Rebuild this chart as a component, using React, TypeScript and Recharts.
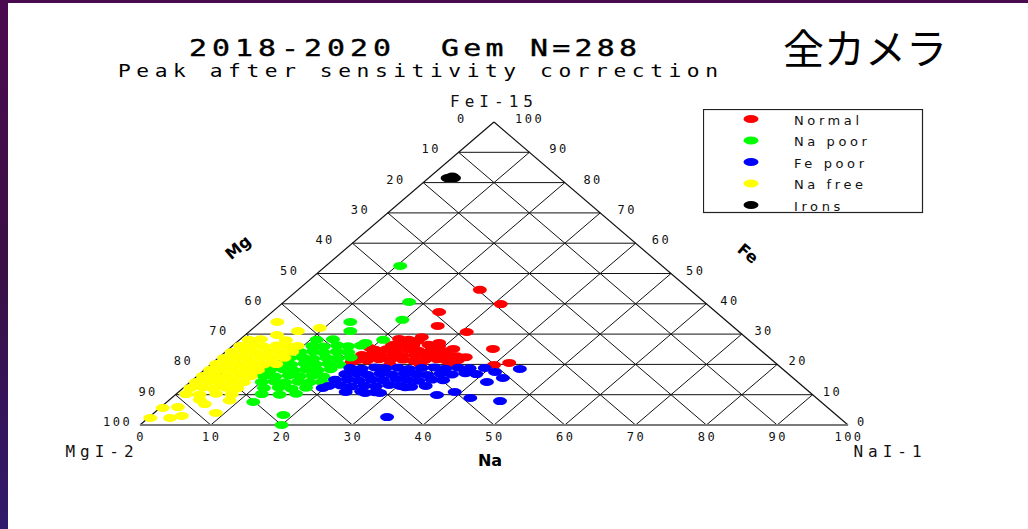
import React from "react";
import {
  ScatterChart,
  Scatter,
  XAxis,
  YAxis,
  ReferenceLine,
  ReferenceDot,
  Legend,
} from "recharts";

const TICKS = [0, 10, 20, 30, 40, 50, 60, 70, 80, 90, 100];
const GRID = [10, 20, 30, 40, 50, 60, 70, 80, 90];

const GROUPS = ["Normal", "Na poor", "Fe poor", "Na free", "Irons"];
const COLORS = ["#ff0000", "#00ff00", "#0000ff", "#ffff00", "#000000"];

// each point is [Na, Fe] in % (Mg = 100 - Na - Fe)
const normal: [number, number][] = [
  [25.7, 44.6], [31.0, 39.9], [23.6, 37.3], [25.7, 32.7], [30.8, 30.7], [37.3, 25.1],
  [41.9, 20.5], [40.1, 19.8], [34.8, 22.4], [31.7, 25.1], [28.7, 27.1], [25.3, 29.0],
  [22.4, 28.4], [23.9, 28.1], [25.3, 27.8],
  [22.4, 26.4], [23.9, 26.6], [25.5, 26.2], [27.5, 26.5], [29.2, 26.0],
  [20.8, 24.8], [22.3, 25.0], [23.9, 24.6], [25.5, 24.9], [27.1, 24.5], [28.8, 24.8], [30.8, 24.3],
  [19.8, 23.1], [21.2, 23.3], [22.6, 22.9], [24.2, 23.2], [25.7, 22.8], [27.3, 23.1],
  [28.8, 23.4], [30.4, 22.9], [31.9, 23.0], [33.4, 22.7],
  [20.0, 21.5], [21.4, 21.3], [22.9, 21.7], [24.6, 21.4], [26.3, 21.6], [28.0, 21.2],
  [29.5, 21.5], [31.1, 21.7], [32.6, 21.3], [34.2, 21.4],
  [25.4, 19.8], [29.6, 20.0], [33.9, 19.9], [19.5, 20.8], [19.8, 25.4],
];

const naPoor: [number, number][] = [
  [10.5, 52.5], [17.7, 40.6], [19.7, 34.7], [12.7, 34.0], [14.2, 31.0], [20.3, 28.1], [18.3, 27.1],
  [10.9, 28.1], [13.1, 28.3],
  [11.3, 26.1], [13.0, 25.9], [14.7, 26.3], [16.4, 26.0], [18.1, 26.2],
  [10.6, 24.1], [12.3, 24.3], [14.0, 23.9], [15.7, 24.2], [17.4, 24.0],
  [10.1, 22.1], [11.8, 22.3], [13.5, 21.9], [15.2, 22.2], [16.9, 22.0], [18.6, 22.3],
  [9.7, 20.1], [11.4, 19.9], [13.1, 20.3], [14.8, 20.0], [16.5, 20.2], [18.2, 19.9],
  [9.3, 18.2], [11.0, 18.4], [12.7, 18.0], [14.3, 18.3], [16.0, 18.1], [17.7, 18.4],
  [9.4, 16.2], [11.1, 16.0], [12.8, 16.4], [14.5, 16.1], [16.2, 16.3], [17.9, 16.0],
  [10.1, 14.2], [11.8, 14.4], [13.5, 14.0], [15.2, 14.3], [16.9, 14.1], [18.6, 14.2],
  [11.4, 12.2], [13.4, 12.4], [15.4, 12.0], [17.3, 12.3],
  [12.1, 10.2], [14.7, 10.0], [16.9, 10.3],
  [12.2, 7.6], [18.6, 3.3], [20.0, 0.0],
];

const fePoor: [number, number][] = [
  [20.3, 18.8], [22.0, 18.6], [23.7, 19.0], [25.3, 18.7], [27.0, 18.9], [28.7, 18.5],
  [30.4, 18.8], [32.1, 19.0], [33.8, 18.6], [35.5, 18.9], [37.2, 18.7],
  [20.6, 16.8], [22.1, 17.0], [23.8, 16.6], [25.5, 16.9], [27.2, 16.7], [28.9, 17.0],
  [30.6, 16.8], [32.3, 16.5], [34.0, 16.9], [35.7, 16.7], [37.4, 17.1], [39.1, 16.8],
  [20.1, 14.9], [21.8, 15.1], [23.5, 14.7], [25.2, 15.0], [26.9, 14.8], [28.6, 15.2],
  [30.3, 14.9], [32.0, 14.6], [33.7, 15.0], [35.4, 14.8],
  [20.2, 12.9], [21.8, 13.1], [23.5, 12.7], [25.2, 13.0], [26.9, 12.8], [28.6, 13.2],
  [30.3, 12.9], [32.0, 12.6],
  [23.6, 10.9], [25.7, 11.1], [27.8, 10.8],
  [44.4, 18.5], [43.5, 15.5], [41.9, 14.2], [46.9, 7.9], [42.2, 8.9], [39.0, 10.9],
  [37.0, 9.9], [33.6, 2.6], [33.9, 12.9], [31.2, 12.5], [28.6, 10.6], [26.5, 10.6],
  [19.7, 12.2], [39.3, 18.8], [41.4, 17.5],
];

const naFree: [number, number][] = [
  [2.4, 34.0], [9.4, 32.0], [6.8, 31.0], [4.5, 29.7],
  [1.3, 28.1], [2.9, 28.3], [6.6, 28.0],
  [1.1, 26.1], [2.8, 26.3], [4.5, 25.9], [6.2, 26.2], [7.9, 26.0], [9.2, 26.1],
  [0.9, 24.1], [2.6, 24.3], [4.3, 23.9], [6.0, 24.2], [7.7, 24.0], [9.4, 24.2],
  [0.8, 22.1], [2.5, 22.3], [4.2, 21.9], [5.9, 22.2], [7.6, 22.0], [9.3, 22.2],
  [0.7, 20.1], [2.4, 20.3], [4.1, 19.9], [5.8, 20.2], [7.5, 20.0], [9.2, 20.1],
  [0.8, 18.2], [2.5, 18.4], [4.2, 18.0], [5.9, 18.3], [7.6, 18.1],
  [0.8, 16.2], [2.5, 16.4], [4.2, 16.0], [5.9, 16.3], [7.6, 16.1],
  [0.8, 14.2], [2.5, 14.4], [4.2, 14.0], [5.9, 14.3], [7.6, 14.1],
  [1.0, 12.2], [2.7, 12.4], [4.4, 12.0], [6.0, 12.3], [7.7, 12.1],
  [1.4, 10.2], [3.4, 10.0], [5.6, 10.3], [7.9, 10.1],
  [4.3, 8.3], [8.6, 8.1],
  [0.4, 5.6], [2.4, 5.9], [4.4, 3.0], [3.1, 2.3], [0.3, 2.3], [5.7, 6.9], [8.7, 4.0],
];

const irons: [number, number][] = [
  [2.7, 81.5], [3.6, 81.5], [3.1, 82.0],
];

const SERIES = [normal, naPoor, fePoor, naFree, irons];

// ternary -> cartesian (x along the Na base, y = Fe height)
const toXY = (pts: [number, number][]) =>
  pts.map(([na, fe]) => ({ x: na + fe / 2, y: fe, na, fe, mg: 100 - na - fe }));

const MONO = "DejaVu Sans Mono";

const tickFont = {
  fontFamily: MONO,
  fontSize: 12,
  letterSpacing: 2.5,
  fill: "#111",
};

const labelFont = { ...tickFont, fontSize: 16, letterSpacing: 5 };
const boldFont = { fontFamily: "DejaVu Sans", fontSize: 16, fontWeight: 900, fill: "#000" };

const NaTick = (props: any) => (
  <text
    x={props.x + 1}
    y={props.y + 12}
    textAnchor="middle"
    dominantBaseline="central"
    style={tickFont}
  >
    {props.payload.value}
  </text>
);

const LegendBox = () => (
  <svg width={221} height={105}>
    <rect x={0.5} y={0.5} width={219} height={103} fill="#fff" stroke="#222" strokeWidth={1.2} />
    {GROUPS.map((g, i) => (
      <g key={g}>
        <ellipse cx={48} cy={10 + i * 21.5} rx={7.5} ry={4} fill={COLORS[i]} />
        <text
          x={91}
          y={11 + i * 21.5}
          dominantBaseline="central"
          style={{ fontFamily: "DejaVu Sans", fontSize: 13, letterSpacing: 3.6, fill: "#111" }}
        >
          {g}
        </text>
      </g>
    ))}
  </svg>
);

export default function App() {
  return (
    <div
      style={{
        position: "absolute",
        left: 0,
        top: 0,
        width: 1028,
        height: 529,
        background: "#fff",
        overflow: "hidden",
      }}
    >
      <div
        style={{
          position: "absolute",
          left: 0,
          top: 0,
          width: 8,
          height: 529,
          background: "linear-gradient(#4b0a50, #3a0f45 50%, #311a6b)",
        }}
      />
      <div
        style={{
          position: "absolute",
          left: 0,
          top: 0,
          width: 1028,
          height: 3,
          background: "#4a0a4e",
        }}
      />
      <div style={{ position: "absolute", left: 0, top: 0 }}>
        <ScatterChart
          width={1028}
          height={529}
          margin={{ top: 122, right: 180, bottom: 74, left: 140 }}
        >
          <XAxis
            type="number"
            dataKey="x"
            domain={[0, 100]}
            ticks={TICKS}
            interval={0}
            height={30}
            tickSize={0}
            tickMargin={0}
            tickLine={false}
            axisLine={{ stroke: "#7a7a7a", strokeWidth: 2 }}
            tick={<NaTick />}
          />
          <YAxis type="number" dataKey="y" domain={[0, 100]} hide />

          {GRID.map((k) => (
            <ReferenceLine
              key={"fe" + k}
              segment={[{ x: k / 2, y: k }, { x: 100 - k / 2, y: k }]}
              stroke="#111"
              strokeWidth={1}
            />
          ))}
          {GRID.map((k) => (
            <ReferenceLine
              key={"na" + k}
              segment={[{ x: k, y: 0 }, { x: 50 + k / 2, y: 100 - k }]}
              stroke="#111"
              strokeWidth={1}
            />
          ))}
          {GRID.map((k) => (
            <ReferenceLine
              key={"mg" + k}
              segment={[{ x: (100 - k) / 2, y: 100 - k }, { x: 100 - k, y: 0 }]}
              stroke="#111"
              strokeWidth={1}
            />
          ))}
          <ReferenceLine segment={[{ x: 0, y: 0 }, { x: 50, y: 100 }]} stroke="#111" strokeWidth={1.2} />
          <ReferenceLine segment={[{ x: 50, y: 100 }, { x: 100, y: 0 }]} stroke="#111" strokeWidth={1.2} />

          {/* Mg scale along the left edge */}
          {TICKS.map((k) => (
            <ReferenceDot
              key={"mgl" + k}
              x={(100 - k) / 2}
              y={100 - k}
              r={1}
              shape={(p: any) => (
                <text x={p.cx - 37} y={p.cy - 3} textAnchor="start" dominantBaseline="central" style={tickFont}>
                  {k}
                </text>
              )}
            />
          ))}
          {/* Fe scale along the right edge */}
          {TICKS.map((k) => (
            <ReferenceDot
              key={"fel" + k}
              x={100 - k / 2}
              y={k}
              r={1}
              shape={(p: any) => (
                <text x={p.cx + 9 + k * 0.12} y={p.cy - 3} textAnchor="start" dominantBaseline="central" style={tickFont}>
                  {k}
                </text>
              )}
            />
          ))}

          <ReferenceDot
            x={50}
            y={100}
            r={1}
            shape={(p: any) => (
              <text x={p.cx} y={p.cy - 21} textAnchor="middle" dominantBaseline="central" style={labelFont}>
                FeI-15
              </text>
            )}
          />
          <ReferenceDot
            x={0}
            y={0}
            r={1}
            shape={(p: any) => (
              <text x={p.cx - 38} y={p.cy + 26} textAnchor="middle" dominantBaseline="central" style={labelFont}>
                MgI-2
              </text>
            )}
          />
          <ReferenceDot
            x={100}
            y={0}
            r={1}
            shape={(p: any) => (
              <text x={p.cx + 42} y={p.cy + 26} textAnchor="middle" dominantBaseline="central" style={labelFont}>
                NaI-1
              </text>
            )}
          />
          <ReferenceDot
            x={50}
            y={0}
            r={1}
            shape={(p: any) => (
              <text x={p.cx - 4} y={p.cy + 35} textAnchor="middle" dominantBaseline="central" style={boldFont}>
                Na
              </text>
            )}
          />
          <ReferenceDot
            x={25}
            y={50}
            r={1}
            shape={(p: any) => (
              <text x={p.cx - 79} y={p.cy - 26} textAnchor="middle" dominantBaseline="central"
                transform={`rotate(-40 ${p.cx - 79} ${p.cy - 26})`} style={boldFont}>
                Mg
              </text>
            )}
          />
          <ReferenceDot
            x={75}
            y={50}
            r={1}
            shape={(p: any) => (
              <text x={p.cx + 77} y={p.cy - 20} textAnchor="middle" dominantBaseline="central"
                transform={`rotate(40 ${p.cx + 77} ${p.cy - 20})`} style={boldFont}>
                Fe
              </text>
            )}
          />

          {SERIES.map((pts, i) => (
            <Scatter
              key={GROUPS[i]}
              name={GROUPS[i]}
              data={toXY(pts)}
              fill={COLORS[i]}
              isAnimationActive={false}
              shape={(p: any) => <ellipse cx={p.cx} cy={p.cy} rx={7} ry={4} fill={COLORS[i]} />}
            />
          ))}

          <Legend
            layout="vertical"
            align="center"
            verticalAlign="middle"
            width={221}
            height={105}
            wrapperStyle={{ left: 703, top: 109, width: 221, height: 105 }}
            content={() => <LegendBox />}
          />
        </ScatterChart>
      </div>
      <svg
        width={1028}
        height={529}
        style={{ position: "absolute", left: 0, top: 0, pointerEvents: "none" }}
      >
        <g transform="translate(189 56) scale(1.3 1)">
          <text x={0} y={0} textLength={202 / 1.3} lengthAdjust="spacing"
            style={{ fontFamily: MONO, fontSize: 23, fill: "#000", stroke: "#000", strokeWidth: 0.4 }}>
            2018-2020
          </text>
        </g>
        <g transform="translate(441 56) scale(1.3 1)">
          <text x={0} y={0} textLength={196 / 1.3} lengthAdjust="spacing"
            style={{ fontFamily: MONO, fontSize: 23, fill: "#000", stroke: "#000", strokeWidth: 0.4 }}>
            Gem N=288
          </text>
        </g>
        <g transform="translate(118 77) scale(1.25 1)">
          <text x={0} y={0} textLength={600 / 1.25} lengthAdjust="spacing"
            style={{ fontFamily: MONO, fontSize: 17, fill: "#000" }}>
            Peak after sensitivity correction
          </text>
        </g>
        <text x={783} y={46} dominantBaseline="central"
          style={{ fontFamily: "Noto Sans CJK JP", fontSize: 41, fill: "#000" }}>
          全カメラ
        </text>
      </svg>
    </div>
  );
}
